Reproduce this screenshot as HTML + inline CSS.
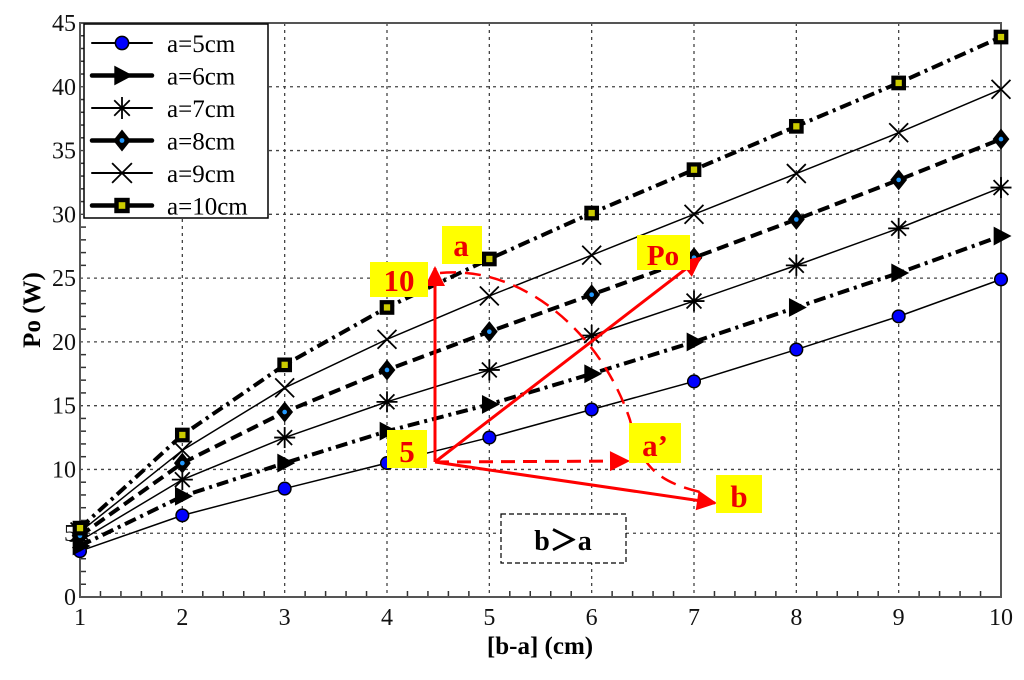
<!DOCTYPE html>
<html><head><meta charset="utf-8"><style>
body{margin:0;background:#fff}
svg text{font-family:"Liberation Serif",serif}
</style></head><body>
<svg id="chart" width="1024" height="675" viewBox="0 0 1024 675" xmlns="http://www.w3.org/2000/svg">
<g id="grid"></g>
<g id="axes"></g>
<g id="series"></g>
<g id="annot">
 <defs>
 <marker id="ah2" viewBox="0 0 10 10" markerWidth="22" markerHeight="20" refX="9" refY="5" orient="auto" markerUnits="userSpaceOnUse"><path d="M0,0 L10,5 L0,10 Z" fill="#f00"/></marker></defs>
 <line x1="435" y1="462" x2="435" y2="268" stroke="#f00" stroke-width="3" marker-end="url(#ah2)"/>
 <line x1="435" y1="462" x2="700" y2="258" stroke="#f00" stroke-width="3" marker-end="url(#ah2)"/>
 <line x1="435" y1="462" x2="715" y2="503" stroke="#f00" stroke-width="3" marker-end="url(#ah2)"/>
 <line x1="435" y1="462" x2="628" y2="461" stroke="#f00" stroke-width="3" stroke-dasharray="14,8" marker-end="url(#ah2)"/>
 <path d="M440,273 C520,265 600,330 630,420 C640,460 650,480 700,492" fill="none" stroke="#f00" stroke-width="2.5" stroke-dasharray="16,9"/>
 <rect x="370" y="262" width="58" height="35" fill="#ff0"/><text x="399" y="291" font-size="31" font-weight="bold" fill="#e00" text-anchor="middle">10</text>
 <rect x="442" y="226" width="40" height="38" fill="#ff0"/><text x="461" y="256" font-size="31" font-weight="bold" fill="#e00" text-anchor="middle">a</text>
 <rect x="637" y="235" width="53" height="35" fill="#ff0"/><text x="663" y="265" font-size="29" font-weight="bold" fill="#e00" text-anchor="middle">Po</text>
 <rect x="387" y="430" width="40" height="38" fill="#ff0"/><text x="407" y="462" font-size="31" font-weight="bold" fill="#e00" text-anchor="middle">5</text>
 <rect x="629" y="423" width="52" height="40" fill="#ff0"/><text x="655" y="456" font-size="31" font-weight="bold" fill="#e00" text-anchor="middle">a’</text>
 <rect x="716" y="475" width="46" height="38" fill="#ff0"/><text x="739" y="507" font-size="31" font-weight="bold" fill="#e00" text-anchor="middle">b</text>
 <rect x="501" y="514" width="125" height="49" fill="#fff" stroke="#000" stroke-width="1.2" stroke-dasharray="5,3"/>
 <text x="563" y="550" font-size="28" font-weight="bold" text-anchor="middle" font-family="Liberation Serif, Noto Serif CJK SC, serif">b＞a</text>
</g>
<g id="legend"></g>
</svg>
<script>
const xCats=[1,2,3,4,5,6,7,8,9,10];
const yTicks=[0,5,10,15,20,25,30,35,40,45];
const seriesNames=["a=5cm","a=6cm","a=7cm","a=8cm","a=9cm","a=10cm"];
const s5=[3.6,6.4,8.5,10.5,12.5,14.7,16.9,19.4,22.0,24.9];
const s6=[4.0,7.9,10.5,13.0,15.1,17.5,20.0,22.7,25.4,28.3];
const s7=[4.4,9.2,12.5,15.3,17.8,20.5,23.2,26.0,28.9,32.1];
const s8=[4.8,10.5,14.5,17.8,20.8,23.7,26.6,29.6,32.7,35.9];
const s9=[5.1,11.5,16.4,20.2,23.6,26.8,30.0,33.2,36.4,39.8];
const s10=[5.4,12.7,18.2,22.7,26.5,30.1,33.5,36.9,40.3,43.9];
const NS="http://www.w3.org/2000/svg";
const X0=80,X1=1001,Y0=597,Y1=23;
const xs=v=>X0+(v-1)/9*(X1-X0);
const ys=v=>Y0-v/45*(Y0-Y1);
function mk(p,t,a){const e=document.createElementNS(NS,t);for(const k in a)e.setAttribute(k,a[k]);p.appendChild(e);return e;}
const grid=document.getElementById('grid'),axes=document.getElementById('axes'),ser=document.getElementById('series'),leg=document.getElementById('legend');
xCats.forEach(v=>{if(v>1){const l=mk(grid,'line',{x1:xs(v),x2:xs(v),y1:Y1,y2:Y0,stroke:'#444','stroke-width':1.3,'stroke-dasharray':'3,4'});

}
const t=mk(axes,'text',{x:xs(v),y:Y0+28,'font-size':24,'text-anchor':'middle',fill:'#111'});t.textContent=v;


if(v<10)for(let m=1;m<5;m++){mk(axes,'line',{x1:xs(v+m/5),x2:xs(v+m/5),y1:Y0,y2:Y0-6,stroke:'#333','stroke-width':1.5});}});
yTicks.forEach(v=>{if(v>0){const l=mk(grid,'line',{x1:X0,x2:X1,y1:ys(v),y2:ys(v),stroke:'#444','stroke-width':1.3,'stroke-dasharray':'3,4'});

}
const t=mk(axes,'text',{x:X0-4,y:ys(v)+8,'font-size':24,'text-anchor':'end',fill:'#111'});t.textContent=v;


if(v<45)for(let m=1;m<5;m++){mk(axes,'line',{x1:X0,x2:X0+6,y1:ys(v+m),y2:ys(v+m),stroke:'#333','stroke-width':1.5});}});
const fr=mk(axes,'rect',{x:X0,y:Y1,width:X1-X0,height:Y0-Y1,fill:'none',stroke:'#555','stroke-width':2});


const xt=mk(axes,'text',{x:540,y:654,'font-size':25,'font-weight':'bold','text-anchor':'middle'});xt.textContent='[b-a] (cm)';


const yt=mk(axes,'text',{x:0,y:0,'font-size':25,'font-weight':'bold','text-anchor':'middle',transform:'translate(40,310) rotate(-90)'});yt.textContent='Po (W)';


const data=[s5,s6,s7,s8,s9,s10];
const styles=[{w:1.5,d:''},{w:4,d:'12,5,3,5'},{w:1.5,d:''},{w:4,d:'12,6'},{w:1.5,d:''},{w:4,d:'12,5,3,5'}];
function marker(g,i,x,y,s){
 if(i==0)mk(g,'circle',{cx:x,cy:y,r:6*s,fill:'#00f',stroke:'#000','stroke-width':1.5});
 else if(i==1)mk(g,'path',{d:`M${x-7*s},${y-9*s}L${x+10*s},${y}L${x-7*s},${y+9*s}Z`,fill:'#000'});
 else if(i==2){for(let a=0;a<4;a++){const an=a*Math.PI/4;mk(g,'line',{x1:x-10*s*Math.cos(an),y1:y-10*s*Math.sin(an),x2:x+10*s*Math.cos(an),y2:y+10*s*Math.sin(an),stroke:'#000','stroke-width':1.8});}}
 else if(i==3){mk(g,'path',{d:`M${x},${y-10*s}L${x+8*s},${y}L${x},${y+10*s}L${x-8*s},${y}Z`,fill:'#000'});mk(g,'circle',{cx:x,cy:y,r:2.2*s,fill:'#29f'});}
 else if(i==4){mk(g,'line',{x1:x-9*s,y1:y-9*s,x2:x+9*s,y2:y+9*s,stroke:'#000','stroke-width':1.8});mk(g,'line',{x1:x-9*s,y1:y+9*s,x2:x+9*s,y2:y-9*s,stroke:'#000','stroke-width':1.8});}
 else {mk(g,'rect',{x:x-7*s,y:y-7*s,width:14*s,height:14*s,fill:'#000'});mk(g,'rect',{x:x-3*s,y:y-3*s,width:6*s,height:6*s,fill:'#cc0'});}
}
data.forEach((arr,i)=>{const g=mk(ser,'g',{});


mk(g,'polyline',{points:arr.map((v,j)=>xs(xCats[j])+','+ys(v)).join(' '),fill:'none',stroke:'#000','stroke-width':styles[i].w,'stroke-dasharray':styles[i].d});
arr.forEach((v,j)=>marker(g,i,xs(xCats[j]),ys(v),1.05));});
const lb=mk(leg,'rect',{x:84,y:24,width:184,height:194,fill:'#fff',stroke:'#000','stroke-width':1.5});


seriesNames.forEach((n,i)=>{const y=43+i*32.5;const g=mk(leg,'g',{});


mk(g,'line',{x1:92,x2:152,y1:y,y2:y,stroke:'#000','stroke-width':styles[i].w+0.5,'stroke-linecap':'round'});
marker(g,i,122,y,1.1);
const t=mk(g,'text',{x:167,y:y+9,'font-size':25});t.textContent=n;});
</script>
</body></html>
